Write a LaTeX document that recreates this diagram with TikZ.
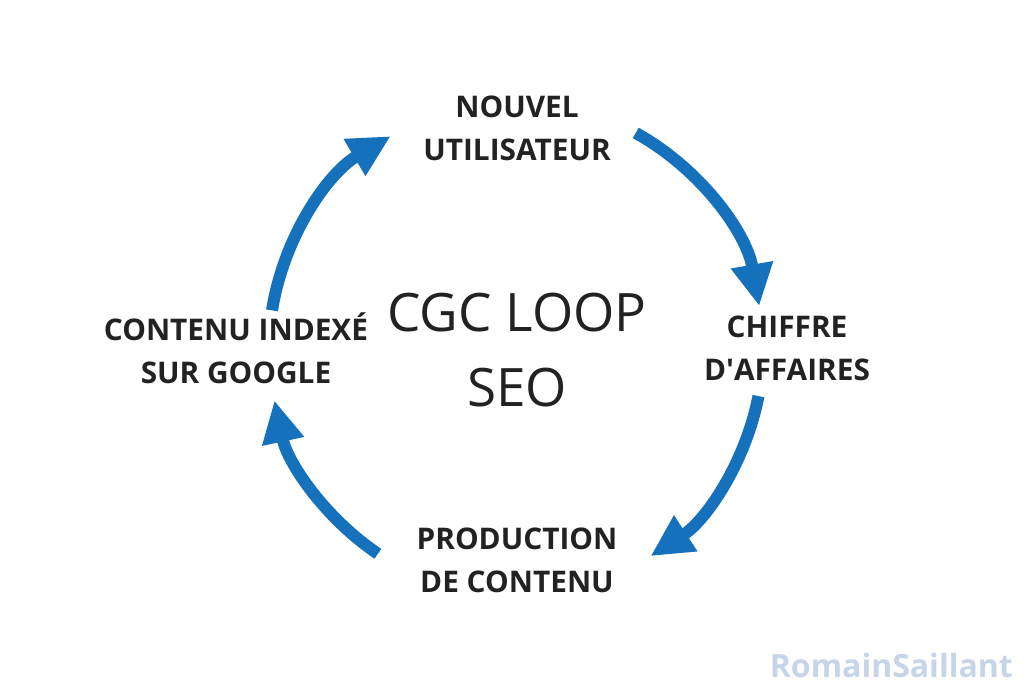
\documentclass[tikz,border=0pt]{standalone}
\usepackage{fontspec}
\setmainfont{Open Sans}
\usetikzlibrary{arrows.meta,calc}
\definecolor{loopblue}{HTML}{1571BB}
\definecolor{txt}{HTML}{222222}
\definecolor{wm}{HTML}{C6D5E8}
\begin{document}
\begin{tikzpicture}[x=1pt,y=1pt,
  lbl/.style={font=\bfseries\fontsize{29.8}{43}\selectfont, text=txt, align=center, inner sep=0pt},
  loop/.style={draw=loopblue, line width=12pt, -{Triangle[length=42pt,width=40pt]}}]
\useasboundingbox[fill=white] (0,0) rectangle (1033,699);
\coordinate (c) at (516,350);
\node[lbl] (nu) at (517,571) {NOUVEL\\UTILISATEUR};
\node[lbl] (ca) at (787,351) {CHIFFRE\\D\textquotesingle AFFAIRES};
\node[lbl] (pc) at (517,139) {PRODUCTION\\DE CONTENU};
\node[lbl] (ci) at (236,351) {CONTENU INDEXÉ\\SUR GOOGLE};
\node[font=\fontsize{53}{75}\selectfont, text=txt, align=center, inner sep=0pt] (cgc) at (517,349) {CGC LOOP\\SEO};
\node[font=\bfseries\fontsize{32}{33}\selectfont, text=wm, anchor=east, inner sep=0pt] (wmk) at (1013,34) {RomainSaillant};
\coordinate (a1s) at ($(c)+(61:247)$);
\coordinate (a2s) at ($(c)+(-11:247)$);
\coordinate (a3s) at ($(c)+(-124:247)$);
\coordinate (a4s) at ($(c)+(171:247)$);
\draw[loop] (a1s) arc[start angle=61, end angle=10, radius=247];
\draw[loop] (a2s) arc[start angle=-11, end angle=-57, radius=247];
\draw[loop] (a3s) arc[start angle=-124, end angle=-168, radius=247];
\draw[loop] (a4s) arc[start angle=171, end angle=120.5, radius=247];
\end{tikzpicture}
\end{document}
